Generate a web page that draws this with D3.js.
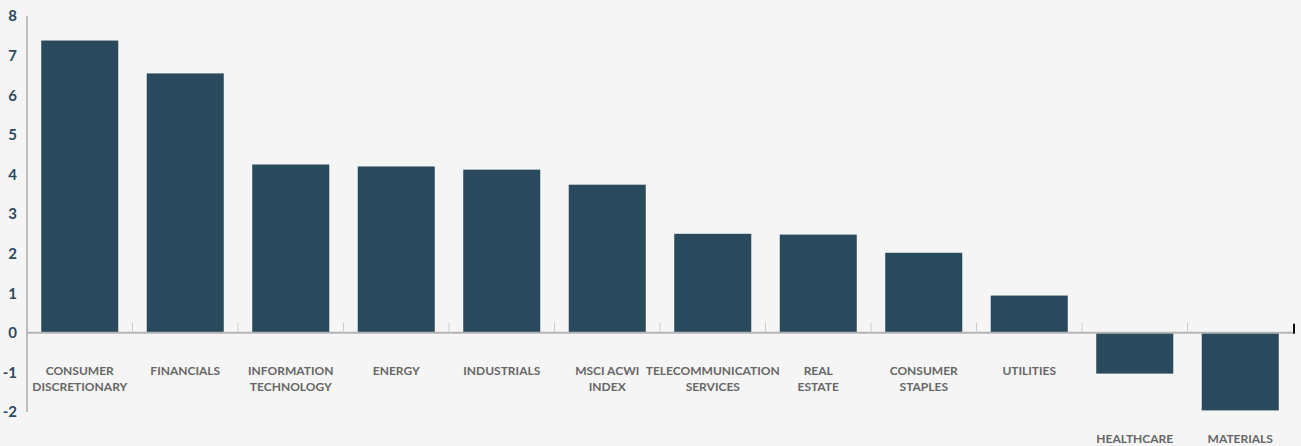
<!DOCTYPE html>
<html><head><meta charset="utf-8">
<script src="https://cdn.jsdelivr.net/npm/d3@7"></script>
<style>
html,body{margin:0;padding:0;background:#f5f5f5;}
svg{display:block;}
</style>
</head><body>
<svg id="chart" width="1301" height="446"></svg>
<script>
const categories = [
  ["CONSUMER","DISCRETIONARY"],
  ["FINANCIALS"],
  ["INFORMATION","TECHNOLOGY"],
  ["ENERGY"],
  ["INDUSTRIALS"],
  ["MSCI ACWI","INDEX"],
  ["TELECOMMUNICATION","SERVICES"],
  ["REAL","ESTATE"],
  ["CONSUMER","STAPLES"],
  ["UTILITIES"],
  ["HEALTHCARE"],
  ["MATERIALS"]
];
const values = [7.38, 6.55, 4.25, 4.20, 4.12, 3.74, 2.50, 2.48, 2.02, 0.94, -1.03, -1.96];
const yTicks = [-2, -1, 0, 1, 2, 3, 4, 5, 6, 7, 8];

(function () {
const svg = d3.select("#chart");
const mLeft = 27, mRight = 1293, mTop = 16, mBottom = 412;

const x = d3.scaleBand()
  .domain(d3.range(categories.length))
  .range([mLeft, mRight])
  .paddingInner(0.27)
  .paddingOuter(0.135);

const y = d3.scaleLinear().domain([-2, 8]).range([mBottom, mTop]);

// vertical axis line
svg.append("line")
  .attr("x1", mLeft).attr("x2", mLeft)
  .attr("y1", y(8)).attr("y2", y(-2))
  .attr("stroke", "#aaaaaa").attr("stroke-width", 1.5);

// y tick labels
const yAxis = d3.axisLeft(y).tickValues(yTicks).tickSize(0).tickPadding(10).tickFormat(d => String(d));
const yg = svg.append("g").attr("transform", `translate(${mLeft},0)`).call(yAxis);
yg.select(".domain").remove();
yg.selectAll("text")
  .attr("font-family", "Lato, 'Open Sans', sans-serif")
  .attr("font-weight", "bold")
  .attr("font-size", 15)
  .attr("fill", "#2c4a5f");

// bars
svg.append("g").selectAll("rect").data(values).join("rect")
  .attr("x", (d, i) => x(i))
  .attr("width", x.bandwidth())
  .attr("y", d => Math.min(y(d), y(0)))
  .attr("height", d => Math.abs(y(d) - y(0)))
  .attr("fill", "#284a5c");

// zero line
svg.append("line")
  .attr("x1", mLeft).attr("x2", mRight)
  .attr("y1", y(0)).attr("y2", y(0))
  .attr("stroke", "#b4b4b4").attr("stroke-width", 2);

// category boundary ticks
const step = x.step();
svg.append("g").selectAll("line").data(d3.range(1, categories.length)).join("line")
  .attr("x1", i => mLeft + i * step).attr("x2", i => mLeft + i * step)
  .attr("y1", y(0) - 10).attr("y2", y(0))
  .attr("stroke", "#c4ccd2").attr("stroke-width", 1);

// right end tick
svg.append("line")
  .attr("x1", mRight + 1).attr("x2", mRight + 1)
  .attr("y1", y(0) - 9).attr("y2", y(0) + 1)
  .attr("stroke", "#111").attr("stroke-width", 2);

// category labels
const lab = svg.append("g").selectAll("text").data(categories).join("text")
  .attr("text-anchor", "middle")
  .attr("font-family", "Lato, 'Open Sans', sans-serif")
  .attr("font-weight", "bold")
  .attr("font-size", 12)
  .attr("fill", "#666666")
  .attr("transform", (d, i) => {
    const cx = x(i) + x.bandwidth() / 2;
    const ty = values[i] >= 0 ? y(0) + 42 : y(-2) + 31;
    return `translate(${cx},${ty})`;
  });
lab.selectAll("tspan").data(d => d).join("tspan")
  .attr("x", 0)
  .attr("dy", (d, j) => j === 0 ? 0 : 16)
  .text(d => d);
})();
</script>
</body></html>
